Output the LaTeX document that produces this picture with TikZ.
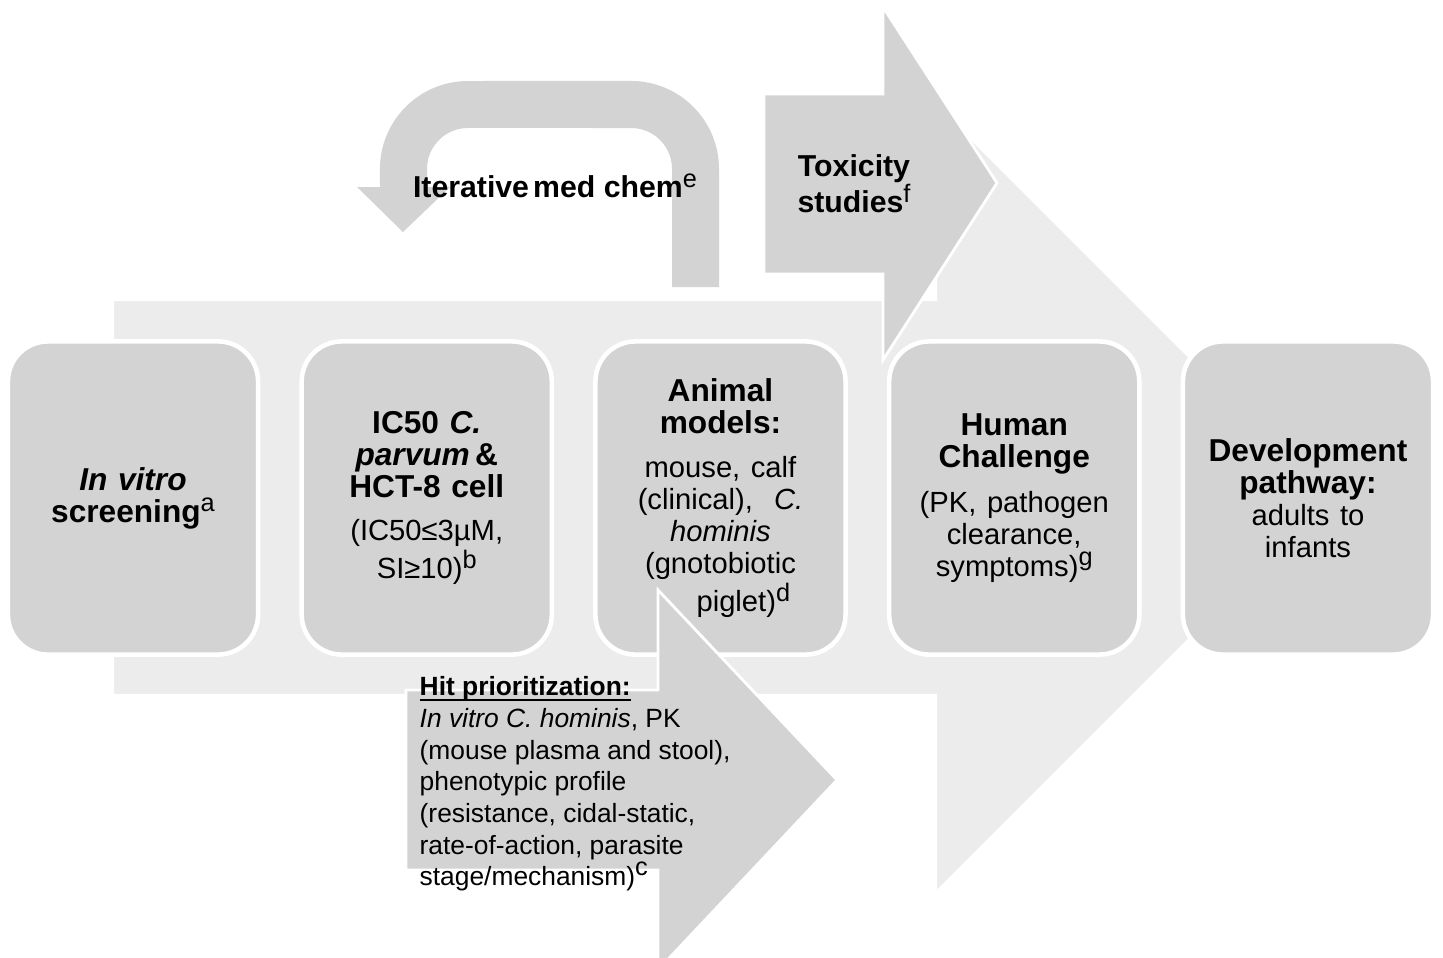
\documentclass[tikz,border=0pt]{standalone}
\usepackage{fontspec}
\setmainfont{Liberation Sans}
\usetikzlibrary{positioning}
\definecolor{boxgray}{RGB}{211,211,211}
\definecolor{pathgray}{RGB}{236,236,236}
\newcommand{\stagenote}{\fontsize{8.3}{9.1}\selectfont\mdseries}
\newcommand{\fnote}[1]{\raisebox{2.9pt}{\fontsize{7.2}{7.2}\selectfont\mdseries\upshape #1}}
\newcommand{\hitline}[1]{\setbox0\hbox{#1}\rlap{\rule[-1.5pt]{\wd0}{0.55pt}}\box0}
\begin{document}
\begin{tikzpicture}[
  x=0.01cm, y=-0.01cm,
  font=\fontsize{9}{9.1}\selectfont,
  node distance=3.9mm,
  stagebox/.style={draw=white,line width=1.3pt,fill=boxgray,rounded corners=4mm,
    align=center,text width=2.4cm,minimum width=2.5cm,minimum height=3.13cm,inner sep=0pt},
  pathshape/.style={fill=pathgray,draw=white,line width=0.6pt},
  sideshape/.style={fill=boxgray,draw=white,line width=0.8pt}
]
\useasboundingbox (0,0) rectangle (1443,957);
\fill[pathshape] (113,300) -- (936,300) -- (936,104) -- (1330,498) -- (936,892)
  -- (936,695) -- (113,695) -- cycle;
\fill[boxgray] (672,287) -- (719,287) -- (719,169) arc[start angle=0,end angle=90,radius=0.88cm]
  -- (468,81) arc[start angle=90,end angle=180,radius=0.88cm] -- (380,187) -- (357,187)
  -- (403,232) -- (450,187) -- (427,187) -- (427,169)
  arc[start angle=180,end angle=90,radius=0.41cm] -- (631,128)
  arc[start angle=90,end angle=0,radius=0.41cm] -- cycle;
\node[font=\fontsize{8.6}{9}\selectfont\bfseries] (itx) at (555,186) {Iterative\kern1.2pt med chem\fnote{e}};
\filldraw[sideshape] (764,94) -- (883,94) -- (883,7) -- (997,183) -- (883,360)
  -- (883,274) -- (764,274) -- cycle;
\node[font=\fontsize{8.6}{10.2}\selectfont\bfseries,align=center] (tox) at (854,184) {Toxicity\\studies\fnote{f}};
\node[stagebox] (s1) at (133,498) {\bfseries\textit{In vitro}\\screening\fnote{a}};
\node[stagebox,right=of s1] (s2) {{\bfseries IC50 \textit{C.}\\\textit{parvum}\,\&\\HCT-8 cell}\\[3pt]
  {\stagenote (IC50≤3µM,\\SI≥10)\fnote{b}}};
\node[stagebox,right=of s2] (s3) {{\bfseries Animal\\models:}\\[3.5pt]
  {\stagenote mouse, calf\\(clinical),\ \ \textit{C.}\\\textit{hominis}\\(gnotobiotic\\\hspace*{13pt}piglet)\fnote{d}}};
\node[stagebox,right=of s3] (s4) {{\bfseries Human\\Challenge}\\[3.5pt]
  {\stagenote (PK, pathogen\\clearance,\\symptoms)\fnote{g}}};
\node[stagebox,right=of s4] (s5) {{\bfseries Development\\pathway:}\\{\stagenote adults to\\infants}};
\filldraw[sideshape] (406,690) -- (658,690) -- (658,590) -- (837,780) -- (658,970)
  -- (658,870) -- (406,870) -- cycle;
\node[anchor=north west,align=left,inner sep=0pt,font=\fontsize{7.5}{9}\selectfont] (hit) at (419,676)
  {\textbf{\hitline{Hit prioritization:}}\\\textit{In vitro C. hominis}, PK\\(mouse plasma and stool),\\
  phenotypic profile\\(resistance, cidal-static,\\rate-of-action, parasite\\stage/mechanism)\fnote{c}};
\end{tikzpicture}
\end{document}
